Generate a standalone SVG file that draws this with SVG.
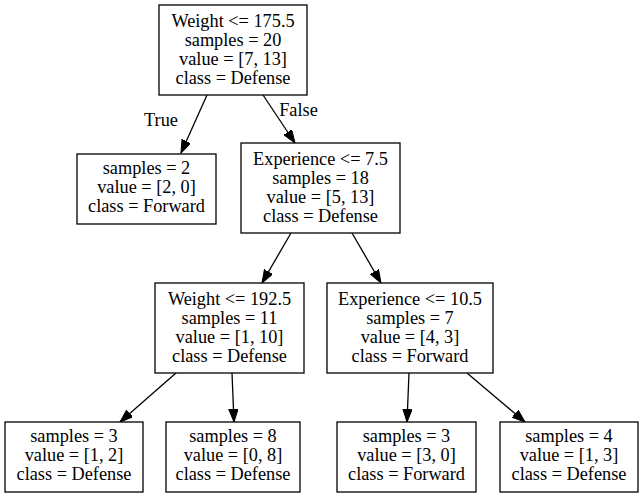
<svg xmlns="http://www.w3.org/2000/svg" width="644" height="497" viewBox="0 0 644 497">
<style>
.box{fill:#fff;stroke:#000;stroke-width:1.3}
text{font-family:"Liberation Serif","Times New Roman",serif;font-size:18.3px;fill:#000;text-anchor:middle}
.edge{stroke:#000;stroke-width:1.3;fill:none;marker-end:url(#arr)}
</style>
<defs>
<marker id="arr" markerUnits="userSpaceOnUse" markerWidth="14" markerHeight="10" refX="13" refY="4.7" orient="auto">
<path d="M0,0 L13,4.7 L0,9.4 z" fill="#000" stroke="#000" stroke-width="1"/>
</marker>
</defs>
<rect width="644" height="497" fill="#fff"/>
<g id="edges">
<line class="edge" x1="207" y1="95" x2="181" y2="153"/>
<line class="edge" x1="263" y1="95" x2="295" y2="143"/>
<line class="edge" x1="291" y1="233" x2="262" y2="283"/>
<line class="edge" x1="352" y1="233" x2="381" y2="283"/>
<line class="edge" x1="176" y1="373" x2="120" y2="422"/>
<line class="edge" x1="232" y1="373" x2="234" y2="422"/>
<line class="edge" x1="409" y1="373" x2="407" y2="422"/>
<line class="edge" x1="467" y1="373" x2="525" y2="422"/>
<text x="161" y="126">True</text>
<text x="298.5" y="116">False</text>
</g>
<g id="n0">
<rect class="box" x="159" y="5" width="148" height="90"/>
<text x="233" y="26.5">Weight &lt;= 175.5</text>
<text x="233" y="45.5">samples = 20</text>
<text x="233" y="64.5">value = [7, 13]</text>
<text x="233" y="83.5">class = Defense</text>
</g>
<g id="n1">
<rect class="box" x="77" y="154" width="139" height="70"/>
<text x="146.5" y="173.5">samples = 2</text>
<text x="146.5" y="192.5">value = [2, 0]</text>
<text x="146.5" y="211.5">class = Forward</text>
</g>
<g id="n2">
<rect class="box" x="241" y="143" width="159" height="90"/>
<text x="320.5" y="164.5">Experience &lt;= 7.5</text>
<text x="320.5" y="183.5">samples = 18</text>
<text x="320.5" y="202.5">value = [5, 13]</text>
<text x="320.5" y="221.5">class = Defense</text>
</g>
<g id="n3">
<rect class="box" x="155" y="283" width="149" height="90"/>
<text x="229.5" y="304.5">Weight &lt;= 192.5</text>
<text x="229.5" y="323.5">samples = 11</text>
<text x="229.5" y="342.5">value = [1, 10]</text>
<text x="229.5" y="361.5">class = Defense</text>
</g>
<g id="n4">
<rect class="box" x="327" y="283" width="166" height="90"/>
<text x="410" y="304.5">Experience &lt;= 10.5</text>
<text x="410" y="323.5">samples = 7</text>
<text x="410" y="342.5">value = [4, 3]</text>
<text x="410" y="361.5">class = Forward</text>
</g>
<g id="n5">
<rect class="box" x="5" y="422" width="138" height="70"/>
<text x="74" y="441.5">samples = 3</text>
<text x="74" y="460.5">value = [1, 2]</text>
<text x="74" y="479.5">class = Defense</text>
</g>
<g id="n6">
<rect class="box" x="166" y="422" width="134" height="70"/>
<text x="233" y="441.5">samples = 8</text>
<text x="233" y="460.5">value = [0, 8]</text>
<text x="233" y="479.5">class = Defense</text>
</g>
<g id="n7">
<rect class="box" x="337" y="422" width="139" height="70"/>
<text x="406.5" y="441.5">samples = 3</text>
<text x="406.5" y="460.5">value = [3, 0]</text>
<text x="406.5" y="479.5">class = Forward</text>
</g>
<g id="n8">
<rect class="box" x="500" y="422" width="138" height="70"/>
<text x="569" y="441.5">samples = 4</text>
<text x="569" y="460.5">value = [1, 3]</text>
<text x="569" y="479.5">class = Defense</text>
</g>
</svg>
